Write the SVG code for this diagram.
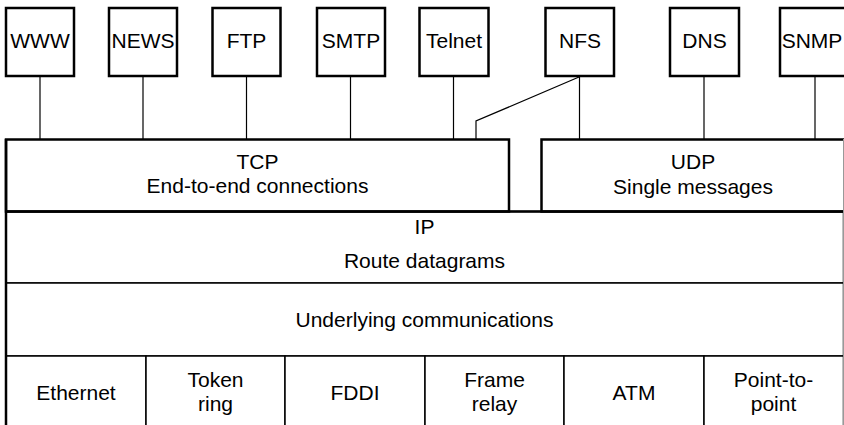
<svg xmlns="http://www.w3.org/2000/svg" width="844" height="425" viewBox="0 0 844 425">
<style>
  .box { fill: #fff; stroke: #000; stroke-width: 2.5; }
  .layer { fill: #fff; stroke: #000; stroke-width: 1.5; }
  .thick { fill: none; stroke: #000; stroke-width: 2.5; }
  .conn { fill: none; stroke: #000; stroke-width: 1.2; }
  text { font-family: "Liberation Sans", Arial, Helvetica, sans-serif; font-size: 21px; fill: #000; text-anchor: middle; }
</style>
<rect x="0" y="0" width="844" height="425" fill="#fff"/>

<g id="connectors">
  <line class="conn" x1="40" y1="76" x2="40" y2="139"/>
  <line class="conn" x1="143" y1="76" x2="143" y2="139"/>
  <line class="conn" x1="246.5" y1="76" x2="246.5" y2="139"/>
  <line class="conn" x1="350.5" y1="76" x2="350.5" y2="139"/>
  <line class="conn" x1="453.5" y1="76" x2="453.5" y2="139"/>
  <polyline class="conn" points="579,77 476,121 476,139"/>
  <line class="conn" x1="579.5" y1="76" x2="579.5" y2="139"/>
  <line class="conn" x1="704" y1="76" x2="704" y2="139"/>
  <line class="conn" x1="815" y1="76" x2="815" y2="139"/>
</g>

<g id="www"><rect class="box" x="6" y="8" width="68" height="68"/><text x="40" y="48">WWW</text></g>
<g id="news"><rect class="box" x="109" y="8" width="68" height="68"/><text x="143" y="48">NEWS</text></g>
<g id="ftp"><rect class="box" x="212.5" y="8" width="68" height="68"/><text x="246.5" y="48">FTP</text></g>
<g id="smtp"><rect class="box" x="317" y="8" width="68" height="68"/><text x="351" y="48">SMTP</text></g>
<g id="telnet"><rect class="box" x="419.5" y="8" width="69" height="68"/><text x="454" y="48">Telnet</text></g>
<g id="nfs"><rect class="box" x="545.5" y="8" width="68.5" height="68"/><text x="580" y="48">NFS</text></g>
<g id="dns"><rect class="box" x="670" y="8" width="69" height="68"/><text x="704.5" y="48">DNS</text></g>
<g id="snmp"><rect class="box" x="780" y="8" width="72" height="68"/><text x="812" y="48">SNMP</text></g>

<g id="ip"><rect class="layer" x="6" y="211.5" width="837.5" height="71.5"/><text x="424.5" y="234">IP</text><text x="424.5" y="268">Route datagrams</text></g>
<g id="underlying"><rect class="layer" x="6" y="283" width="837.5" height="73"/><text x="424.5" y="327">Underlying communications</text></g>

<g id="ethernet"><rect class="layer" x="6" y="356" width="140" height="75"/><text x="76" y="400">Ethernet</text></g>
<g id="tokenring"><rect class="layer" x="146" y="356" width="139" height="75"/><text x="215.5" y="387">Token</text><text x="215.5" y="411">ring</text></g>
<g id="fddi"><rect class="layer" x="285" y="356" width="140" height="75"/><text x="355" y="400">FDDI</text></g>
<g id="framerelay"><rect class="layer" x="425" y="356" width="139" height="75"/><text x="494.5" y="387">Frame</text><text x="494.5" y="411">relay</text></g>
<g id="atm"><rect class="layer" x="564" y="356" width="140" height="75"/><text x="634" y="400">ATM</text></g>
<g id="ptp"><rect class="layer" x="704" y="356" width="139.5" height="75"/><text x="773.5" y="387">Point-to-</text><text x="773.5" y="411">point</text></g>

<g id="tcp"><rect class="box" x="6" y="139.5" width="503" height="72"/><text x="257.5" y="169">TCP</text><text x="257.5" y="193">End-to-end connections</text></g>
<g id="udp"><rect class="box" x="541.5" y="139.5" width="310" height="72"/><text x="693" y="169">UDP</text><text x="693" y="194">Single messages</text></g>

<g id="frame">
  <line class="thick" x1="6" y1="139" x2="6" y2="426"/>
  <line class="thick" x1="6" y1="211.5" x2="844" y2="211.5"/>
  <line x1="843.5" y1="139" x2="843.5" y2="425" stroke="#999" stroke-width="1"/>
</g>
</svg>
